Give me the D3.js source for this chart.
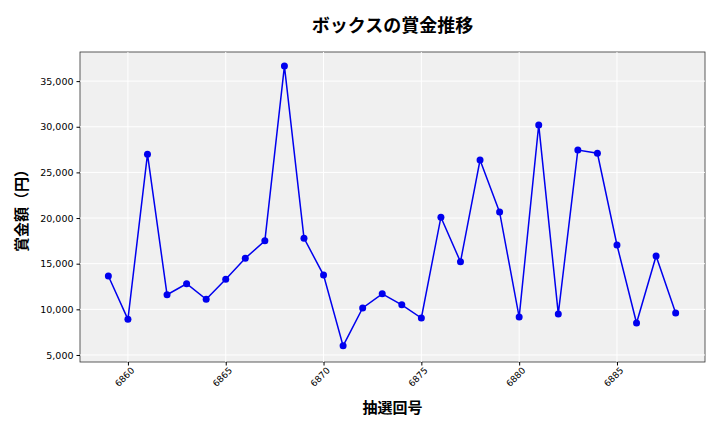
<!DOCTYPE html>
<html><head><meta charset="utf-8">
<script src="https://cdn.jsdelivr.net/npm/d3@7"></script>
<style>body{margin:0;background:#fff;font-family:"Noto Sans CJK JP","Noto Sans",sans-serif;}</style>
</head><body>
<svg id="chart" width="720" height="432"></svg>
<script>
const draws = d3.range(6859, 6889);
const prizes = [13650, 8900, 27000, 11600, 12800, 11100, 13300, 15600, 17500, 36650,
  17800, 13750, 6000, 10150, 11700, 10500, 9050, 20100, 15200, 26350,
  20650, 9150, 30200, 9500, 27450, 27100, 17050, 8500, 15850, 9600];
const xTicks = [6860, 6865, 6870, 6875, 6880, 6885];
const yTicks = [5000, 10000, 15000, 20000, 25000, 30000, 35000];

const svg = d3.select("#chart");
const L = 80, R = 705, T = 52, B = 362;
const x = d3.scaleLinear().domain([6857.55, 6889.5]).range([L, R]);
const y = d3.scaleLinear().domain([4230, 38190]).range([B, T]);

svg.append("rect").attr("x", L).attr("y", T).attr("width", R - L).attr("height", B - T)
  .attr("fill", "#f0f0f0").attr("stroke", "#333").attr("stroke-width", 0.8);

// grid
svg.append("g").selectAll("line").data(xTicks).join("line")
  .attr("x1", d => x(d)).attr("x2", d => x(d)).attr("y1", T).attr("y2", B)
  .attr("stroke", "#fff").attr("stroke-width", 1);
svg.append("g").selectAll("line").data(yTicks).join("line")
  .attr("x1", L).attr("x2", R).attr("y1", d => y(d)).attr("y2", d => y(d))
  .attr("stroke", "#fff").attr("stroke-width", 1);

const xAxis = svg.append("g").attr("transform", `translate(0,${B})`)
  .call(d3.axisBottom(x).tickValues(xTicks).tickSize(3.5).tickFormat(d3.format("d")));
xAxis.selectAll("text").attr("transform", "rotate(-45)").attr("text-anchor", "end")
  .attr("dx", "-0.2em").attr("dy", "0.5em").style("font-size", "9px");
const yAxis = svg.append("g").attr("transform", `translate(${L},0)`)
  .call(d3.axisLeft(y).tickValues(yTicks).tickSize(3.5).tickFormat(d3.format(",")));
yAxis.selectAll("text").style("font-size", "9.5px");
svg.selectAll(".domain").remove();
svg.selectAll(".tick text").attr("fill", "#000").style("font-family", "'DejaVu Sans',sans-serif");

const line = d3.line().x((d, i) => x(draws[i])).y(d => y(d));
svg.append("path").datum(prizes).attr("d", line)
  .attr("fill", "none").attr("stroke", "#0000ee").attr("stroke-width", 1.5);
svg.append("g").selectAll("circle").data(prizes).join("circle")
  .attr("cx", (d, i) => x(draws[i])).attr("cy", d => y(d)).attr("r", 3.5).attr("fill", "#0000ee");

svg.append("text").attr("x", (L + R) / 2).attr("y", 32).attr("text-anchor", "middle")
  .style("font-size", "18px").style("font-weight", "bold").text("ボックスの賞金推移");
svg.append("text").attr("x", (L + R) / 2).attr("y", 413).attr("text-anchor", "middle")
  .style("font-size", "15px").style("font-weight", "bold").text("抽選回号");
svg.append("text").attr("transform", `translate(27,${(T + B) / 2}) rotate(-90)`).attr("text-anchor", "middle")
  .style("font-size", "15px").style("font-weight", "bold").text("賞金額（円）");
</script>
</body></html>
